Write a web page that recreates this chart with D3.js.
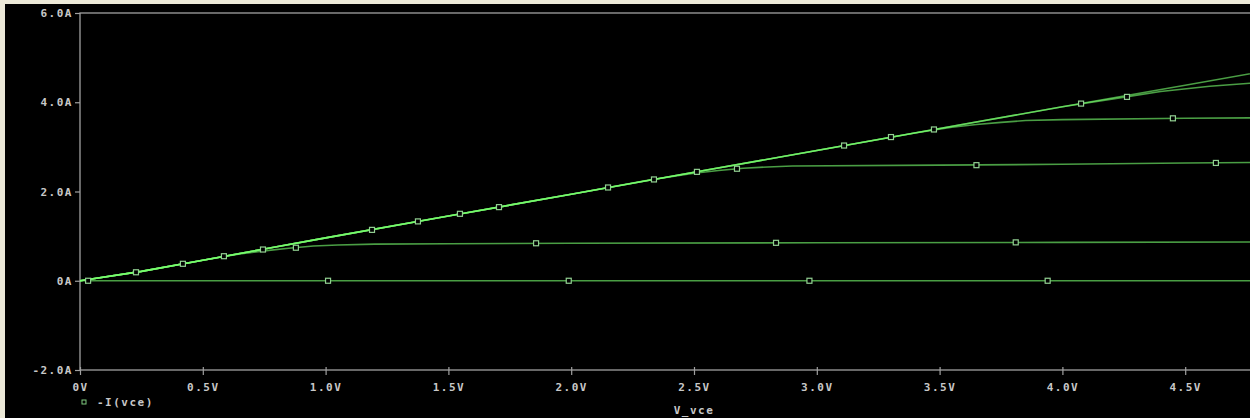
<!DOCTYPE html>
<html>
<head>
<meta charset="utf-8">
<script src="https://cdn.jsdelivr.net/npm/d3@7/dist/d3.min.js"></script>
<style>
  html, body { margin: 0; padding: 0; background: #ece9d8; overflow: hidden; }
  text { font-family: "DejaVu Sans Mono", monospace; font-size: 11px; font-weight: bold; letter-spacing: 1.5px; fill: #c8c8c8; }
</style>
</head>
<body>
<div id="chart"></div>
<script>
// axis ticks
const xTicks = [0, 0.5, 1.0, 1.5, 2.0, 2.5, 3.0, 3.5, 4.0, 4.5];
const xTickLabels = ["0V", "0.5V", "1.0V", "1.5V", "2.0V", "2.5V", "3.0V", "3.5V", "4.0V", "4.5V"];
const yTicks = [-2, 0, 2, 4, 6];
const yTickLabels = ["-2.0A", "0A", "2.0A", "4.0A", "6.0A"];

// -I(vce) vs V_vce, one trace per base-current step: [V, A]
const trace0 = [[0, 0], [5, 0]];
const trace1 = [[0, 0], [0.25, 0.21], [0.5, 0.46], [0.65, 0.6], [0.75, 0.67], [0.85, 0.73], [0.95, 0.78],
  [1.05, 0.8], [1.2, 0.82], [1.5, 0.83], [2.0, 0.84], [3.0, 0.85], [4.0, 0.86], [5.0, 0.87]];
const trace2 = [[0, 0], [0.25, 0.21], [0.5, 0.46], [0.75, 0.71], [1.0, 0.96], [1.5, 1.45], [2.0, 1.94],
  [2.3, 2.24], [2.5, 2.41], [2.6, 2.47], [2.7, 2.52], [2.8, 2.55], [2.9, 2.57], [3.5, 2.59], [4.0, 2.61], [4.5, 2.64], [5.0, 2.66]];
const trace3 = [[0, 0], [0.25, 0.21], [0.5, 0.46], [0.75, 0.71], [1.0, 0.96], [1.5, 1.45], [2.0, 1.94],
  [2.5, 2.43], [3.0, 2.92], [3.4, 3.31], [3.55, 3.44], [3.65, 3.5], [3.75, 3.55], [3.85, 3.59], [4.0, 3.61], [4.5, 3.64], [5.0, 3.66]];
const trace4 = [[0, 0], [0.25, 0.21], [0.5, 0.46], [0.75, 0.71], [1.0, 0.96], [1.5, 1.45], [2.0, 1.94],
  [2.5, 2.43], [3.0, 2.92], [3.5, 3.41], [4.0, 3.9], [4.2, 4.07], [4.4, 4.24], [4.6, 4.36], [4.8, 4.44], [5.0, 4.48]];
const trace5 = [[0, 0], [0.25, 0.21], [0.5, 0.46], [0.75, 0.71], [1.0, 0.96], [1.5, 1.45], [2.0, 1.94],
  [2.5, 2.43], [3.0, 2.92], [3.5, 3.41], [4.0, 3.9], [4.5, 4.38], [5.0, 4.87]];

// the little square symbols on each trace
const marks0 = [[0.033, 0], [1.01, 0], [1.99, 0], [2.97, 0], [3.94, 0]];
const marks1 = [[0.879, 0.74], [1.857, 0.84], [2.834, 0.85], [3.81, 0.86]];
const marks2 = [[0.745, 0.70], [1.706, 1.65], [2.675, 2.51], [3.65, 2.59], [4.625, 2.64]];
const marks3 = [[0.586, 0.55], [1.547, 1.50], [2.512, 2.44], [3.477, 3.39], [4.45, 3.64]];
const marks4 = [[0.419, 0.38], [1.376, 1.33], [2.337, 2.27], [3.302, 3.22], [4.263, 4.12]];
const marks5 = [[0.228, 0.19], [1.189, 1.14], [2.15, 2.09], [3.111, 3.03], [4.076, 3.97]];

const traces = [trace0, trace1, trace2, trace3, trace4, trace5];
const marks = [marks0, marks1, marks2, marks3, marks4, marks5];

const width = 1250, height = 418;
const plotL = 80, plotT = 13, plotB = 370, plotR = 1308;

const svg = d3.select("#chart").append("svg")
  .attr("width", width)
  .attr("height", height)
  .style("display", "block");

// black plot window inside the grey window frame
svg.append("rect")
  .attr("x", 5).attr("y", 4)
  .attr("width", width).attr("height", height)
  .attr("fill", "#000");

const x = d3.scaleLinear().domain([0, 5]).range([plotL, plotR]);
const y = d3.scaleLinear().domain([-2, 6]).range([plotB, plotT]);

svg.append("rect")
  .attr("x", plotL).attr("y", plotT)
  .attr("width", plotR - plotL).attr("height", plotB - plotT)
  .attr("fill", "none")
  .attr("stroke", "#a0a0a0")
  .attr("stroke-width", 1.3);

const yAxis = svg.append("g")
  .attr("transform", "translate(" + plotL + ",0)")
  .call(d3.axisLeft(y).tickValues(yTicks).tickSize(5).tickPadding(2)
    .tickFormat((d, i) => yTickLabels[i]));

const xAxis = svg.append("g")
  .attr("transform", "translate(0," + plotB + ")")
  .call(d3.axisBottom(x).tickValues(xTicks).tickSize(5).tickPadding(8)
    .tickFormat((d, i) => xTickLabels[i]));

svg.selectAll(".domain").remove();
svg.selectAll(".tick line").attr("stroke", "#a0a0a0").attr("stroke-width", 1.2);
xAxis.selectAll(".tick line").attr("y1", -3);
svg.selectAll(".tick text").attr("fill", null).attr("font-family", null).attr("font-size", null);

const line = d3.line()
  .x(d => x(d[0]))
  .y(d => y(d[1]));

svg.append("g")
  .selectAll("path")
  .data(traces)
  .enter()
  .append("path")
  .attr("d", line)
  .attr("fill", "none")
  .attr("stroke", "rgb(120,255,110)")
  .attr("stroke-opacity", 0.62)
  .attr("stroke-width", 1.6);

svg.append("g")
  .selectAll("rect")
  .data(marks.flat())
  .enter()
  .append("rect")
  .attr("x", d => x(d[0]) - 2.5)
  .attr("y", d => y(d[1]) - 2.5)
  .attr("width", 5)
  .attr("height", 5)
  .attr("fill", "#000")
  .attr("stroke", "#92d092")
  .attr("stroke-width", 1.2);

// legend
svg.append("rect")
  .attr("x", 82).attr("y", 400)
  .attr("width", 4).attr("height", 4)
  .attr("fill", "none")
  .attr("stroke", "#7fc97f")
  .attr("stroke-width", 1);
svg.append("text")
  .attr("x", 97).attr("y", 402)
  .attr("dy", "0.35em")
  .text("-I(vce)");

// x axis title
svg.append("text")
  .attr("x", x(2.5)).attr("y", 414)
  .attr("text-anchor", "middle")
  .text("V_vce");
</script>
</body>
</html>
